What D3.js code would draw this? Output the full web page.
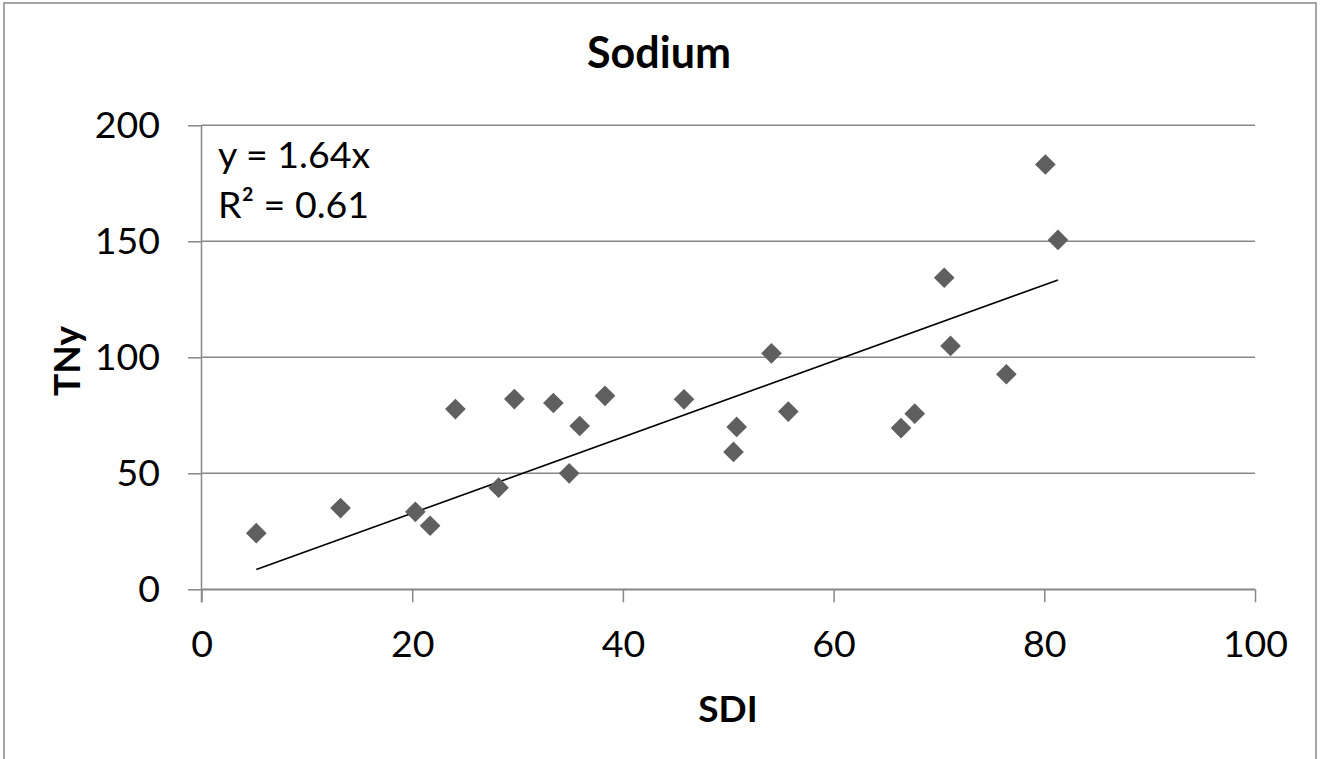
<!DOCTYPE html>
<html>
<head>
<meta charset="utf-8">
<script src="https://cdn.jsdelivr.net/npm/d3@7"></script>
<style>
  html, body { margin: 0; padding: 0; background: #fff; }
  svg { display: block; }
  text { font-family: Lato, "Open Sans", sans-serif; fill: #000; }
</style>
</head>
<body>
<svg id="chart" width="1320" height="759"></svg>
<script>
// Sodium vs. SDI scatter with a zero-intercept linear trend
const sdi = [5.2, 13.2, 20.3, 21.7, 24.1, 28.2, 29.7, 33.4, 34.9, 35.9, 38.3, 45.8,
             50.5, 50.8, 54.1, 55.7, 66.4, 67.7, 70.5, 71.1, 76.4, 80.1, 81.3];
const tny = [24.2, 35.0, 33.4, 27.4, 77.7, 43.8, 82.0, 80.3, 50.0, 70.4, 83.4, 81.9,
             59.2, 70.0, 101.7, 76.6, 69.5, 75.7, 134.3, 104.9, 92.7, 183.1, 150.6];
const xTicks = [0, 20, 40, 60, 80, 100];
const yTicks = [0, 50, 100, 150, 200];
const slope = 1.64;
const rSquared = 0.61;
const chartTitle = "Sodium";
const xTitle = "SDI";
const yTitle = "TNy";

const svg = d3.select("#chart");
const gridColor = "#878787";

const x = d3.scaleLinear().domain([0, 100]).range([201.5, 1255]);
const y = d3.scaleLinear().domain([0, 200]).range([589.3, 125.3]);

// outer chart frame (bottom edge runs past the visible area)
svg.append("rect")
  .attr("x", 4).attr("y", 3).attr("width", 1312).attr("height", 800)
  .attr("fill", "none").attr("stroke", gridColor).attr("stroke-width", 1.5);

// horizontal gridlines
svg.append("g").selectAll("line").data(yTicks).join("line")
  .attr("x1", x(0)).attr("x2", x(100))
  .attr("y1", d => y(d)).attr("y2", d => y(d))
  .attr("stroke", gridColor).attr("stroke-width", 1.5);

// y axis
const yAxis = svg.append("g")
  .attr("transform", `translate(${x(0)},0)`)
  .call(d3.axisLeft(y).tickValues(yTicks).tickSize(13.5).tickPadding(28).tickSizeOuter(0));
// x axis
const xAxis = svg.append("g")
  .attr("transform", `translate(0,${y(0)})`)
  .call(d3.axisBottom(x).tickValues(xTicks).tickSize(13).tickPadding(28.5).tickSizeOuter(0));

[xAxis, yAxis].forEach(g => {
  g.select(".domain").attr("stroke", gridColor).attr("stroke-width", 1.5);
  g.selectAll(".tick line").attr("stroke", gridColor).attr("stroke-width", 1.5);
  g.selectAll(".tick text")
    .attr("fill", "#000")
    .style("font-family", "Lato, sans-serif")
    .style("font-size", "37.5px");
});
// the y axis line continues down to the end of the x tick at 0
yAxis.select(".domain").attr("d", `M0,${y(200)}V${y(0) + 13}`);

// trend line over the data's x range
const xmin = d3.min(sdi), xmax = d3.max(sdi);
svg.append("line")
  .attr("x1", x(xmin)).attr("y1", y(slope * xmin))
  .attr("x2", x(xmax)).attr("y2", y(slope * xmax))
  .attr("stroke", "#000").attr("stroke-width", 1.6);

// diamond markers
const diamond = d3.symbol().type(d3.symbolSquare).size(214);
svg.append("g").selectAll("path").data(sdi.map((v, i) => [v, tny[i]])).join("path")
  .attr("d", diamond)
  .attr("transform", d => `translate(${x(d[0])},${y(d[1])}) rotate(45)`)
  .attr("fill", "#5f5f5f");

// trend equation
const eq = svg.append("g").style("font-size", "37.5px");
eq.append("text").attr("x", 218).attr("y", 168).text(`y = ${slope}x`);
eq.append("text").attr("x", 218).attr("y", 218).text(`R² = ${rSquared}`);

// titles
svg.append("text")
  .attr("x", 659).attr("y", 68).attr("text-anchor", "middle")
  .style("font-size", "43px").style("font-weight", 700)
  .text(chartTitle);
svg.append("text")
  .attr("x", 728).attr("y", 722).attr("text-anchor", "middle")
  .style("font-size", "37px").style("font-weight", 700)
  .text(xTitle);
svg.append("text")
  .attr("transform", "translate(80,361) rotate(-90)")
  .attr("text-anchor", "middle")
  .style("font-size", "37px").style("font-weight", 700)
  .text(yTitle);
</script>
</body>
</html>
